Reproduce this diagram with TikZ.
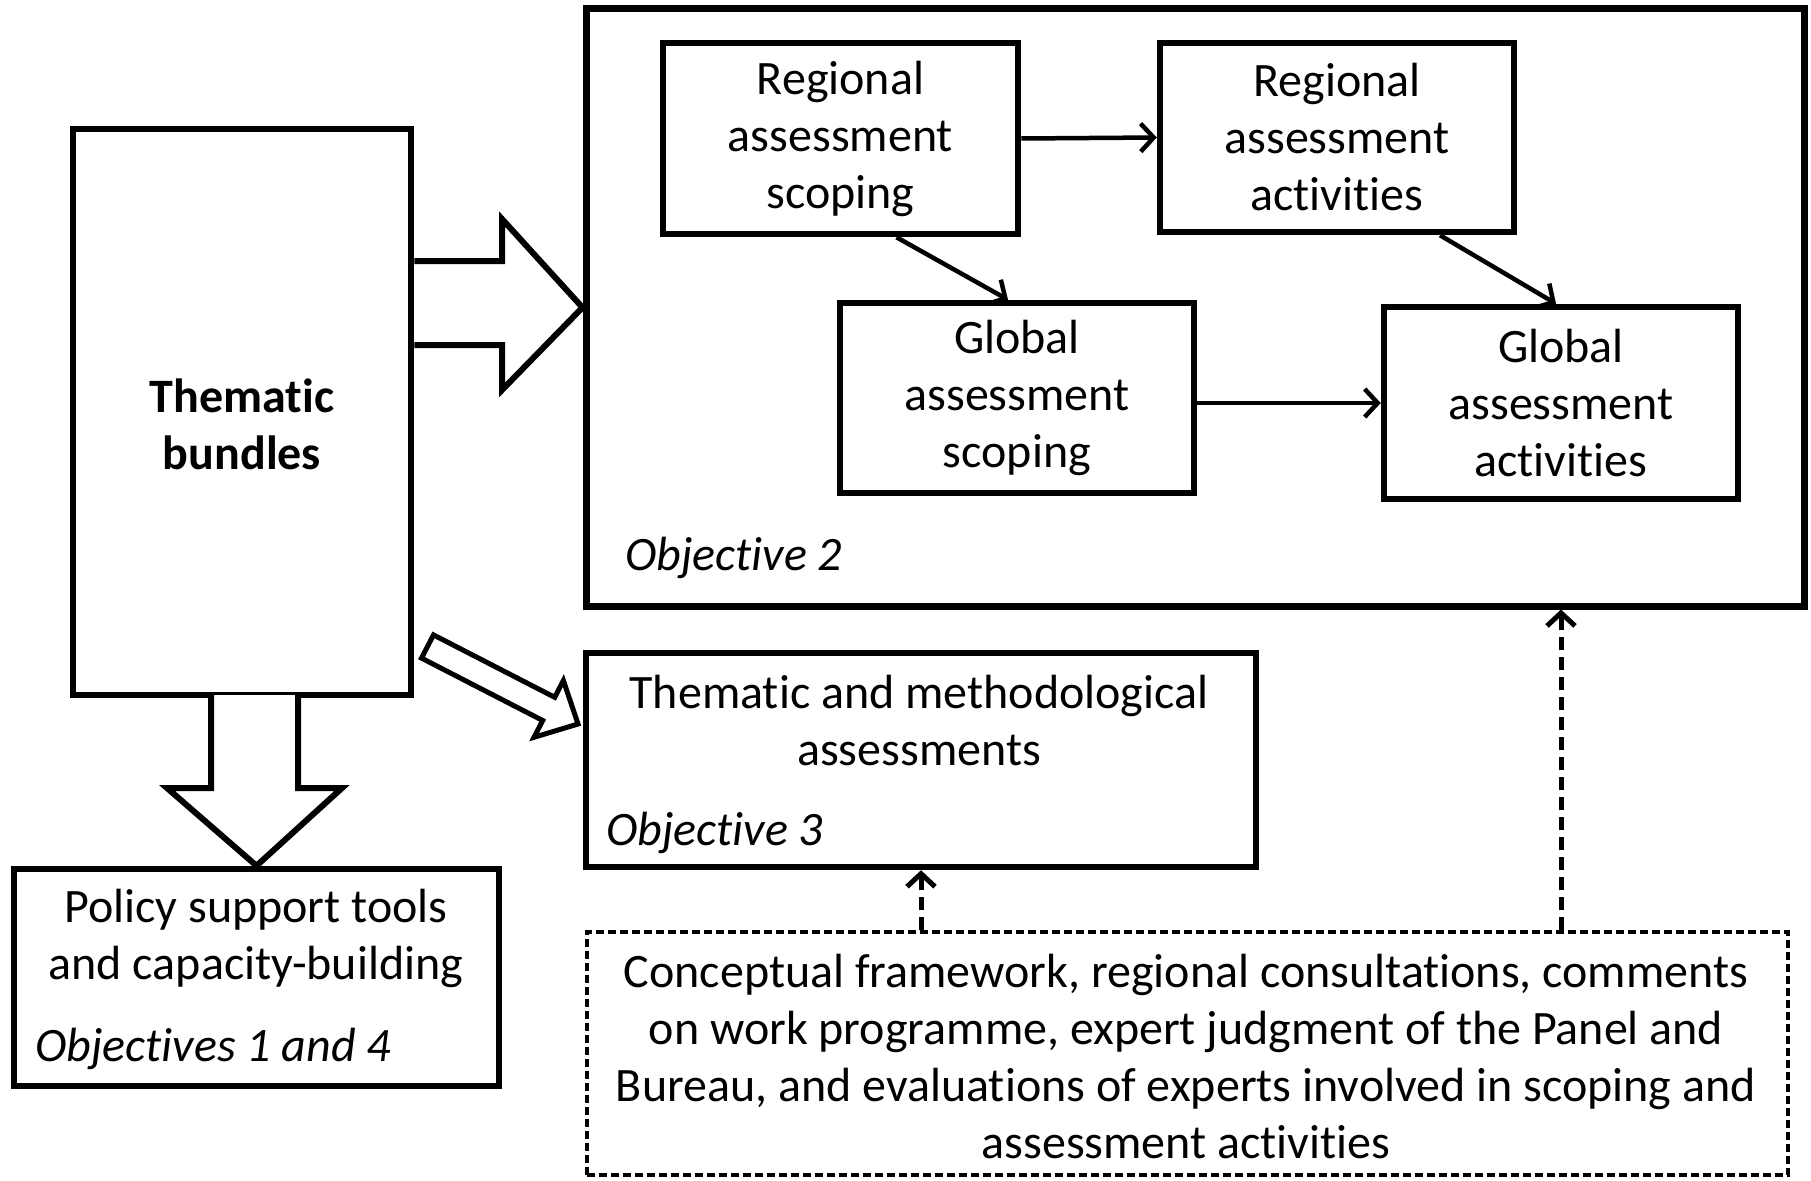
\documentclass[tikz,border=0pt]{standalone}
\usepackage{fontspec}
\setmainfont[Ligatures=NoCommon]{Carlito}
\usetikzlibrary{arrows.meta,calc}
\newcommand\dfont{\fontsize{48}{57}\selectfont}
\begin{document}
\begin{tikzpicture}[x=1pt,y=-1pt,
  box/.style 2 args={draw,line width=6.5pt,rectangle,inner sep=0pt,minimum width=#1,minimum height=#2,align=center,font=\dfont},
  lbl/.style={inner sep=0pt,align=center,font=\dfont},
  obj/.style={inner sep=0pt,anchor=west,font=\dfont\itshape},
  conn/.style={line width=4.5pt,-{Straight Barb[length=13pt,width=28pt]}},
  dconn/.style={line width=5pt,dash pattern=on 13pt off 7pt,-{Straight Barb[length=13pt,width=28pt]}},
  blockarrow/.style={draw,line width=6pt,fill=white,line join=miter}]
\useasboundingbox (0,0) rectangle (1811,1180);
\fill[white] (0,0) rectangle (1811,1180);

% Objective 2 frame
\node[box={1218pt}{597pt},line width=7pt] (obj2) at (1195,307.5) {};
\node[obj] (o2) at (625,558) {Objective 2};

\node[box={355pt}{191pt}] (rs) at (840.5,138.5) {Regional\\assessment\\scoping};
\node[box={354pt}{189pt}] (ra) at (1337,137.5) {Regional\\assessment\\activities};
\node[box={354pt}{190pt}] (gs) at (1017,398) {Global\\assessment\\scoping};
\node[box={354pt}{192pt}] (ga) at (1561,403) {Global\\assessment\\activities};

\draw[conn] (rs.east) -- (ra.west);
\draw[conn] ([xshift=56pt]rs.south) -- ([xshift=-9pt]gs.north);
\draw[conn] ([xshift=103pt]ra.south) -- ([xshift=-5pt]ga.north);
\draw[conn] (gs.east |- ga.west) -- (ga.west);

% Thematic bundles
\node[box={338pt}{566pt}] (th) at (242,412) {};
\node[lbl,font=\dfont\bfseries] (thl) at (242,424) {Thematic\\bundles};

% Thematic and methodological
\node[box={670pt}{214pt}] (tm) at (921,760) {};
\node[lbl] (tml) at (919,720.5) {Thematic and methodological\\assessments};
\node[obj] (o3) at (606,833) {Objective 3};

% Policy support
\node[box={485pt}{217pt}] (ps) at (256.5,977.5) {};
\node[lbl] (psl) at (256,938) {Policy support tools\\and capacity-building};
\node[obj] (o14) at (35,1049) {Objectives 1 and 4};

% Dashed box
\node[draw,line width=3.5pt,dash pattern=on 8pt off 4pt,rectangle,inner sep=0pt,minimum width=1201pt,minimum height=243pt] (db) at (1187.5,1053.5) {};
\node[lbl] (dbl) at (1186,1056) {Conceptual framework, regional consultations, comments\\on work programme, expert judgment of the Panel and\\Bureau, and evaluations of experts involved in scoping and\\assessment activities};

% block arrows
\draw[blockarrow] (th.east |- 0,261) -- (502,261) -- (502,219) -- (obj2.west) -- (502,390) -- (502,345) -- (th.east |- 0,345) ;
\draw[blockarrow] (211,695) -- (211,788) -- (167,788) -- (ps.north) -- (342,788) -- (298,788) -- (298,695);
\draw[blockarrow,line width=5pt] (433.5,634.9) -- (554.7,697.3) -- (563.4,680.5) -- (578,724) -- (534,737.3) -- (542.7,720.5) -- (421.5,658.1) -- cycle;

% dashed arrows
\draw[dconn] (tm.south |- db.north) -- (tm.south);
\draw[dconn] (ga.south |- db.north) -- (ga.south |- obj2.south);
\end{tikzpicture}
\end{document}
